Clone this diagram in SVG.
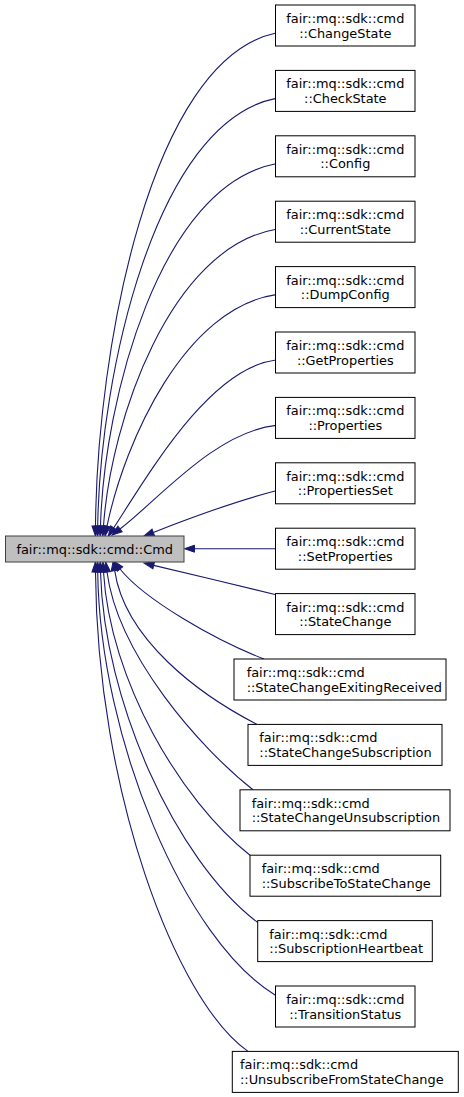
<svg xmlns="http://www.w3.org/2000/svg" width="464" height="1097" viewBox="0 0 464 1097">
<style>
.bg{fill:#ffffff}
.node rect{fill:#ffffff;stroke:#000000;stroke-width:1}
.root rect{fill:#bfbfbf;stroke:#404040;stroke-width:1}
text{font-family:"DejaVu Sans","Liberation Sans",sans-serif;font-size:12.9px;fill:#000000}
.c{text-anchor:middle}
.edges path{fill:none;stroke:#191970;stroke-width:1.1;marker-start:url(#ah)}
</style>
<defs>
<marker id="ah" markerUnits="userSpaceOnUse" markerWidth="12" markerHeight="10" refX="0" refY="0" viewBox="-1 -5 12 10" orient="auto-start-reverse" overflow="visible">
<polygon points="0,-3.5 10,0 0,3.5" fill="#191970" stroke="#191970" stroke-width="1"/>
</marker>
</defs>
<rect class="bg" x="0" y="0" width="464" height="1097"/>
<g id="edges" class="edges">
<path d="M95.5,526 C97,350 150,60 276,33"/>
<path d="M97.7,526 C100,375 155,122 276,98.4"/>
<path d="M100.5,526 C104,400 160,185 276,163.8"/>
<path d="M103.5,526 C111,420 170,248 276,229.2"/>
<path d="M107,526.2 C125,440 185,308 276,294.6"/>
<path d="M113.7,527.8 C150,472 210,368 276,360"/>
<path d="M120,529 C158,500 215,432 276,425.4"/>
<path d="M153.3,532.4 C190,518 240,500 276,490.8"/>
<path d="M194.5,548.7 L276,548.7"/>
<path d="M153.7,565.4 C190,574 240,586 275,594.5"/>
<path d="M120,569 C145,600 215,640 264,659"/>
<path d="M114.7,570.7 C125,640 200,695 257,724.4"/>
<path d="M107,572 C118,655 200,748 253,789.8"/>
<path d="M103.5,572 C110,680 180,800 250,855.2"/>
<path d="M100.5,572 C104,700 175,860 257.7,922.5"/>
<path d="M97.7,572 C100,740 185,940 275,995"/>
<path d="M95.5,572 C97,790 175,1000 248,1051.4"/>
</g>
<g id="root" class="root">
<rect x="5.5" y="536" width="178.5" height="26"/>
<text class="c" x="94.7" y="553.5">fair::mq::sdk::cmd::Cmd</text>
</g>
<g id="n_ChangeState" class="node">
<rect x="275.5" y="5" width="139.5" height="41"/>
<text class="c" x="345.3" y="23">fair::mq::sdk::cmd</text>
<text class="c" x="345.3" y="37.5">::ChangeState</text>
</g>
<g id="n_CheckState" class="node">
<rect x="275.5" y="70.4" width="139.5" height="41"/>
<text class="c" x="345.3" y="88.4">fair::mq::sdk::cmd</text>
<text class="c" x="345.3" y="102.9">::CheckState</text>
</g>
<g id="n_Config" class="node">
<rect x="275.5" y="135.8" width="139.5" height="41"/>
<text class="c" x="345.3" y="153.8">fair::mq::sdk::cmd</text>
<text class="c" x="345.3" y="168.3">::Config</text>
</g>
<g id="n_CurrentState" class="node">
<rect x="275.5" y="201.2" width="139.5" height="41"/>
<text class="c" x="345.3" y="219.2">fair::mq::sdk::cmd</text>
<text class="c" x="345.3" y="233.7">::CurrentState</text>
</g>
<g id="n_DumpConfig" class="node">
<rect x="275.5" y="266.6" width="139.5" height="41"/>
<text class="c" x="345.3" y="284.6">fair::mq::sdk::cmd</text>
<text class="c" x="345.3" y="299.1">::DumpConfig</text>
</g>
<g id="n_GetProperties" class="node">
<rect x="275.5" y="332" width="139.5" height="41"/>
<text class="c" x="345.3" y="350">fair::mq::sdk::cmd</text>
<text class="c" x="345.3" y="364.5">::GetProperties</text>
</g>
<g id="n_Properties" class="node">
<rect x="275.5" y="397.4" width="139.5" height="41"/>
<text class="c" x="345.3" y="415.4">fair::mq::sdk::cmd</text>
<text class="c" x="345.3" y="429.9">::Properties</text>
</g>
<g id="n_PropertiesSet" class="node">
<rect x="275.5" y="462.8" width="139.5" height="41"/>
<text class="c" x="345.3" y="480.8">fair::mq::sdk::cmd</text>
<text class="c" x="345.3" y="495.3">::PropertiesSet</text>
</g>
<g id="n_SetProperties" class="node">
<rect x="275.5" y="528.2" width="139.5" height="41"/>
<text class="c" x="345.3" y="546.2">fair::mq::sdk::cmd</text>
<text class="c" x="345.3" y="560.7">::SetProperties</text>
</g>
<g id="n_StateChange" class="node">
<rect x="275.5" y="593.6" width="139.5" height="41"/>
<text class="c" x="345.3" y="611.6">fair::mq::sdk::cmd</text>
<text class="c" x="345.3" y="626.1">::StateChange</text>
</g>
<g id="n_StateChangeExitingReceived" class="node">
<rect x="234" y="659" width="212" height="41"/>
<text x="246.7" y="677">fair::mq::sdk::cmd</text>
<text x="246.7" y="691.5">::StateChangeExitingReceived</text>
</g>
<g id="n_StateChangeSubscription" class="node">
<rect x="248" y="724.4" width="194" height="41"/>
<text x="259.3" y="742.4">fair::mq::sdk::cmd</text>
<text x="259.3" y="756.9">::StateChangeSubscription</text>
</g>
<g id="n_StateChangeUnsubscription" class="node">
<rect x="240" y="789.8" width="210" height="41"/>
<text x="251.7" y="807.8">fair::mq::sdk::cmd</text>
<text x="251.7" y="822.3">::StateChangeUnsubscription</text>
</g>
<g id="n_SubscribeToStateChange" class="node">
<rect x="250" y="855.2" width="190.7" height="41"/>
<text x="261.7" y="873.2">fair::mq::sdk::cmd</text>
<text x="261.7" y="887.7">::SubscribeToStateChange</text>
</g>
<g id="n_SubscriptionHeartbeat" class="node">
<rect x="257.7" y="920.6" width="174.6" height="41"/>
<text x="269.3" y="938.6">fair::mq::sdk::cmd</text>
<text x="269.3" y="953.1">::SubscriptionHeartbeat</text>
</g>
<g id="n_TransitionStatus" class="node">
<rect x="275.5" y="986" width="139.5" height="41"/>
<text class="c" x="345.3" y="1004">fair::mq::sdk::cmd</text>
<text class="c" x="345.3" y="1018.5">::TransitionStatus</text>
</g>
<g id="n_UnsubscribeFromStateChange" class="node">
<rect x="232.3" y="1051.4" width="226" height="41"/>
<text x="240" y="1069.4">fair::mq::sdk::cmd</text>
<text x="240" y="1083.9">::UnsubscribeFromStateChange</text>
</g>
</svg>
